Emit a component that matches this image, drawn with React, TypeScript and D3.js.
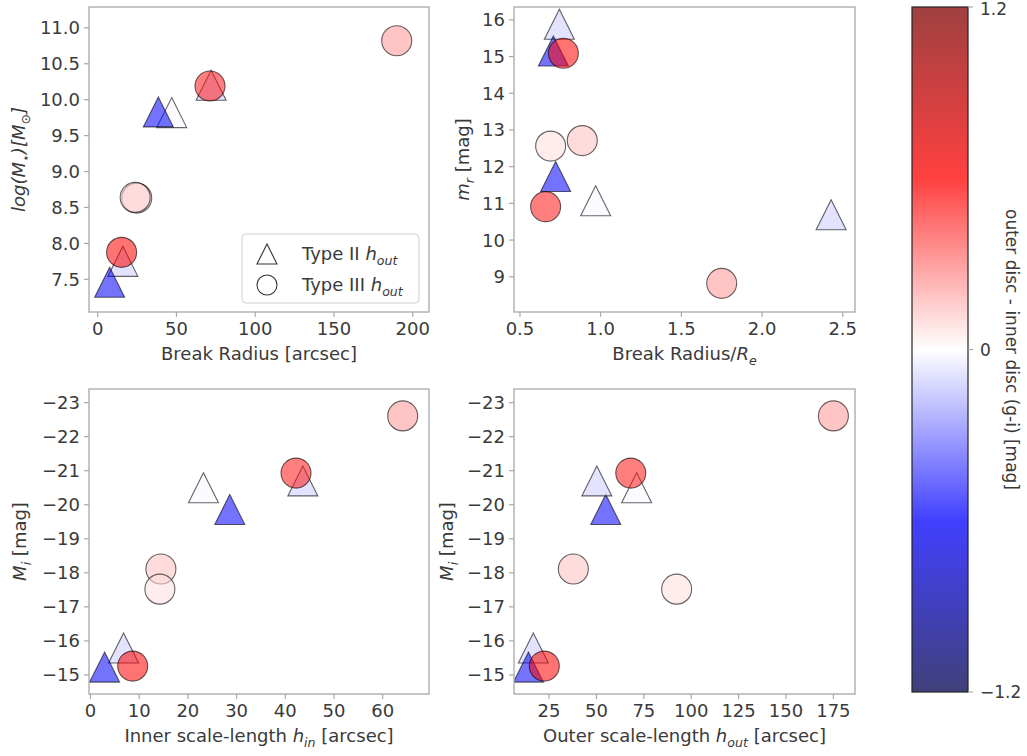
import React from 'react';
import * as d3 from 'd3';

// ---- Data ----
// Type II (triangles)
const typeIIBreakRadius = [47, 38.5, 72, 16, 7.6];
const typeIILogMass = [9.82, 9.83, 10.2, 7.75, 7.46];
const typeIIBreakRe = [0.969, 0.721, 2.428, 0.744, 0.707];
const typeIIMr = [11.07, 11.73, 10.69, 15.88, 15.15];
const typeIIMi = [-20.5, -19.86, -20.7, -15.79, -15.23];
const typeIIHin = [23.2, 28.6, 43.6, 6.8, 2.9];
const typeIIHout = [71.2, 54.9, 50.2, 16.7, 14.1];
const typeIIColor = [-0.02, -0.6, -0.12, -0.12, -0.62];

// Type III (circles)
const typeIIIBreakRadius = [189.8, 71.3, 24.8, 23.8, 15.2];
const typeIIILogMass = [10.82, 10.19, 8.63, 8.64, 7.875];
const typeIIIBreakRe = [1.75, 0.659, 0.886, 0.69, 0.769];
const typeIIIMr = [8.82, 10.91, 12.71, 12.56, 15.09];
const typeIIIMi = [-22.61, -20.93, -18.11, -17.52, -15.26];
const typeIIIHin = [64.1, 42.2, 14.46, 14.25, 8.67];
const typeIIIHout = [175, 68.1, 37.8, 92.3, 22.5];
const typeIIIColor = [0.25, 0.55, 0.15, 0.08, 0.6];

// Tick labels
const ticksBreakRadius = [0, 50, 100, 150, 200];
const ticksLogMass = [7.5, 8.0, 8.5, 9.0, 9.5, 10.0, 10.5, 11.0];
const ticksBreakRe = [0.5, 1.0, 1.5, 2.0, 2.5];
const ticksMr = [9, 10, 11, 12, 13, 14, 15, 16];
const ticksHin = [0, 10, 20, 30, 40, 50, 60];
const ticksHout = [25, 50, 75, 100, 125, 150, 175];
const ticksMi = [-23, -22, -21, -20, -19, -18, -17, -16, -15];
const ticksColorbar = [-1.2, 0, 1.2];

const FONT = 'DejaVu Sans';
const FS = 18;
const TEXT = '#3a3a3a';
const SPINE = '#a8a8a8';

const seismic = d3
  .scaleLinear<string>()
  .domain([-1.2, -0.6, 0, 0.6, 1.2])
  .range(['rgb(0,0,77)', 'rgb(0,0,255)', 'rgb(255,255,255)', 'rgb(255,0,0)', 'rgb(128,0,0)'])
  .interpolate(d3.interpolateRgb);

type Seg = { t: string; i?: boolean; sub?: boolean };

function RichText({ segs, fs, ...props }: any) {
  let shifted = false;
  const kids = (segs as Seg[]).map((s, k) => {
    let dy: number | undefined;
    if (s.sub && !shifted) {
      dy = fs * 0.28;
      shifted = true;
    } else if (!s.sub && shifted) {
      dy = -fs * 0.28;
      shifted = false;
    }
    return (
      <tspan key={k} dy={dy} fontStyle={s.i ? 'italic' : undefined} fontSize={s.sub ? fs * 0.7 : fs}>
        {s.t}
      </tspan>
    );
  });
  return (
    <text {...props} fontSize={fs} fontFamily={FONT} fill={TEXT}>
      {kids}
    </text>
  );
}

const MS = 30; // marker size
const triPath = (s: number) => `M0,${-s / 2}L${s / 2},${s / 2}L${-s / 2},${s / 2}Z`;

type Panel = {
  id: string;
  x0: number; x1: number; y0: number; y1: number;
  xd: [number, number]; yd: [number, number]; yInvert?: boolean;
  xt: number[]; yt: number[]; xf: (v: number) => string; yf: (v: number) => string;
  tx: number[]; ty: number[]; cx: number[]; cy: number[];
  xlabel: Seg[]; ylabel: Seg[]; ylabelX: number; legend?: boolean;
};

const fmt1 = d3.format('.1f');
const fmtD = d3.format('d');

const panels: Panel[] = [
  {
    id: 'p1', x0: 89, x1: 429, y0: 7, y1: 312,
    xd: [-5.5, 210.3], yd: [7.045, 11.29],
    xt: ticksBreakRadius, yt: ticksLogMass, xf: fmtD, yf: fmt1,
    tx: typeIIBreakRadius, ty: typeIILogMass, cx: typeIIIBreakRadius, cy: typeIIILogMass,
    xlabel: [{ t: 'Break Radius [arcsec]' }],
    ylabel: [{ t: 'log(M', i: true }, { t: '⋆', sub: true }, { t: ')[M', i: true }, { t: '⊙', sub: true }, { t: ']', i: true }],
    ylabelX: 25, legend: true,
  },
  {
    id: 'p2', x0: 514, x1: 855, y0: 7, y1: 312,
    xd: [0.463, 2.576], yd: [8.04, 16.35],
    xt: ticksBreakRe, yt: ticksMr, xf: fmt1, yf: fmtD,
    tx: typeIIBreakRe, ty: typeIIMr, cx: typeIIIBreakRe, cy: typeIIIMr,
    xlabel: [{ t: 'Break Radius/' }, { t: 'R', i: true }, { t: 'e', i: true, sub: true }],
    ylabel: [{ t: 'm', i: true }, { t: 'r', i: true, sub: true }, { t: ' [mag]' }],
    ylabelX: 469,
  },
  {
    id: 'p3', x0: 89, x1: 429, y0: 389, y1: 694,
    xd: [-0.3, 69.5], yd: [-23.4, -14.44], yInvert: true,
    xt: ticksHin, yt: ticksMi, xf: fmtD, yf: fmtD,
    tx: typeIIHin, ty: typeIIMi, cx: typeIIIHin, cy: typeIIIMi,
    xlabel: [{ t: 'Inner scale-length ' }, { t: 'h', i: true }, { t: 'in', i: true, sub: true }, { t: ' [arcsec]' }],
    ylabel: [{ t: 'M', i: true }, { t: 'i', i: true, sub: true }, { t: ' [mag]' }],
    ylabelX: 26,
  },
  {
    id: 'p4', x0: 514, x1: 855, y0: 389, y1: 694,
    xd: [6.5, 186.4], yd: [-23.4, -14.44], yInvert: true,
    xt: ticksHout, yt: ticksMi, xf: fmtD, yf: fmtD,
    tx: typeIIHout, ty: typeIIMi, cx: typeIIIHout, cy: typeIIIMi,
    xlabel: [{ t: 'Outer scale-length ' }, { t: 'h', i: true }, { t: 'out', i: true, sub: true }, { t: ' [arcsec]' }],
    ylabel: [{ t: 'M', i: true }, { t: 'i', i: true, sub: true }, { t: ' [mag]' }],
    ylabelX: 453,
  },
];

const MARKER_ALPHA = 0.55;

function PanelView({ p }: { p: Panel }) {
  const x = d3.scaleLinear().domain(p.xd).range([p.x0, p.x1]);
  const y = d3.scaleLinear().domain(p.yd).range(p.yInvert ? [p.y0, p.y1] : [p.y1, p.y0]);
  const cx = (p.x0 + p.x1) / 2;
  const cy = (p.y0 + p.y1) / 2;
  return (
    <g>
      <defs>
        <clipPath id={`clip-${p.id}`}>
          <rect x={p.x0} y={p.y0} width={p.x1 - p.x0} height={p.y1 - p.y0} />
        </clipPath>
      </defs>
      <rect x={p.x0} y={p.y0} width={p.x1 - p.x0} height={p.y1 - p.y0} fill="white" />
      <g clipPath={`url(#clip-${p.id})`}>
        {p.tx.map((v, k) => (
          <path
            key={`t${k}`}
            d={triPath(MS)}
            transform={`translate(${x(v)},${y(p.ty[k])})`}
            fill={seismic(typeIIColor[k])}
            fillOpacity={MARKER_ALPHA}
            stroke="black"
            strokeOpacity={0.6}
            strokeWidth={1.1}
          />
        ))}
        {p.cx.map((v, k) => (
          <circle
            key={`c${k}`}
            cx={x(v)}
            cy={y(p.cy[k])}
            r={MS / 2}
            fill={seismic(typeIIIColor[k])}
            fillOpacity={MARKER_ALPHA}
            stroke="black"
            strokeOpacity={0.6}
            strokeWidth={1.1}
          />
        ))}
      </g>
      <rect x={p.x0} y={p.y0} width={p.x1 - p.x0} height={p.y1 - p.y0} fill="none" stroke={SPINE} strokeWidth={1.3} />
      {p.xt.map((v) => (
        <g key={`xt${v}`}>
          <line x1={x(v)} x2={x(v)} y1={p.y1} y2={p.y1 + 5} stroke={SPINE} strokeWidth={1.2} />
          <text x={x(v)} y={p.y1 + 23} textAnchor="middle" fontSize={FS} fontFamily={FONT} fill={TEXT}>
            {p.xf(v)}
          </text>
        </g>
      ))}
      {p.yt.map((v) => (
        <g key={`yt${v}`}>
          <line x1={p.x0 - 5} x2={p.x0} y1={y(v)} y2={y(v)} stroke={SPINE} strokeWidth={1.2} />
          <text x={p.x0 - 9} y={y(v)} dy="0.36em" textAnchor="end" fontSize={FS} fontFamily={FONT} fill={TEXT}>
            {p.yf(v)}
          </text>
        </g>
      ))}
      <RichText segs={p.xlabel} fs={FS} x={cx} y={p.y1 + 48} textAnchor="middle" />
      <RichText
        segs={p.ylabel}
        fs={FS}
        x={0}
        y={0}
        textAnchor="middle"
        transform={`translate(${p.ylabelX},${cy}) rotate(-90)`}
      />
      {p.legend && (
        <g>
          <rect x={242} y={234} width={177} height={69} rx={4} fill="white" fillOpacity={0.85} stroke="#d0d0d0" strokeWidth={1} />
          <path d={triPath(20)} transform="translate(267,254)" fill="white" stroke="#333" strokeWidth={1.1} />
          <circle cx={267} cy={285} r={10} fill="white" stroke="#333" strokeWidth={1.1} />
          <RichText
            segs={[{ t: 'Type II ' }, { t: 'h', i: true }, { t: 'out', i: true, sub: true }]}
            fs={FS}
            x={302}
            y={260}
          />
          <RichText
            segs={[{ t: 'Type III ' }, { t: 'h', i: true }, { t: 'out', i: true, sub: true }]}
            fs={FS}
            x={302}
            y={291}
          />
        </g>
      )}
    </g>
  );
}

function Colorbar() {
  const x0 = 912, x1 = 968, y0 = 7, y1 = 692;
  const s = d3.scaleLinear().domain([-1.2, 1.2]).range([y1, y0]);
  const stops = d3.range(0, 1.0001, 0.05);
  return (
    <g>
      <defs>
        <linearGradient id="cbgrad" x1="0" y1="1" x2="0" y2="0">
          {stops.map((t) => (
            <stop key={t} offset={t} stopColor={seismic(-1.2 + 2.4 * t)} />
          ))}
        </linearGradient>
      </defs>
      <rect x={x0} y={y0} width={x1 - x0} height={y1 - y0} fill="url(#cbgrad)" fillOpacity={0.75} />
      <rect x={x0} y={y0} width={x1 - x0} height={y1 - y0} fill="none" stroke="#222" strokeWidth={1.2} />
      {ticksColorbar.map((v) => (
        <g key={v}>
          <line x1={x1} x2={x1 + 5} y1={s(v)} y2={s(v)} stroke={SPINE} strokeWidth={1.2} />
          <text x={x1 + 12} y={Math.max(s(v), 9)} dy="0.36em" fontSize={FS - 1} fontFamily={FONT} fill={TEXT}>
            {v === 0 ? '0' : d3.format('.1f')(v)}
          </text>
        </g>
      ))}
      <text
        transform={`translate(1006,${(y0 + y1) / 2}) rotate(90)`}
        textAnchor="middle"
        fontSize={FS - 1}
        fontFamily={FONT}
        fill={TEXT}
      >
        outer disc - inner disc (g-i) [mag]
      </text>
    </g>
  );
}

export default function App() {
  return (
    <svg
      width={1027}
      height={756}
      style={{ position: 'absolute', left: 0, top: 0, background: 'white' }}
    >
      <rect width={1027} height={756} fill="white" />
      {panels.map((p) => (
        <PanelView key={p.id} p={p} />
      ))}
      <Colorbar />
    </svg>
  );
}
